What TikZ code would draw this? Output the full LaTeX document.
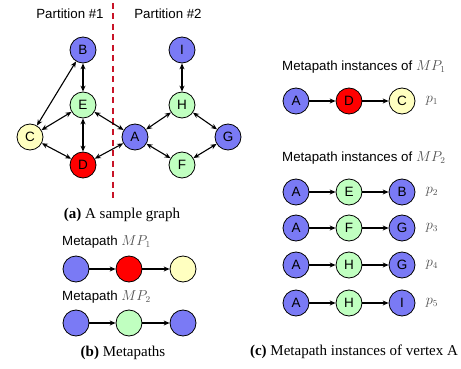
\documentclass[tikz,border=0pt]{standalone}
\usepackage{fontspec}
\setmainfont{Liberation Serif}
\newfontfamily\hv{Liberation Sans}
\usetikzlibrary{arrows.meta}
\definecolor{vblue}{RGB}{122,122,245}
\definecolor{vred}{RGB}{255,0,0}
\definecolor{vyellow}{RGB}{255,255,192}
\definecolor{vgreen}{RGB}{192,255,192}
\definecolor{pgray}{RGB}{80,80,80}
\definecolor{dred}{RGB}{200,20,40}
\tikzset{
  vtx/.style={circle,draw=black,line width=0.8pt,minimum size=26pt,inner sep=0pt,font=\hv\fontsize{13.5}{13.5}\selectfont},
  bl/.style={vtx,fill=vblue},
  rd/.style={vtx,fill=vred},
  ye/.style={vtx,fill=vyellow},
  gr/.style={vtx,fill=vgreen},
  bi/.style={line width=1.1pt,{Stealth[length=6pt,width=5pt]}-{Stealth[length=6pt,width=5pt]}},
  uni/.style={line width=1.1pt,-{Stealth[length=6pt,width=5pt]}},
  lbl/.style={font=\hv\fontsize{13.3}{13.3}\selectfont,inner sep=0pt},
  captxt/.style={font=\fontsize{15}{15}\selectfont,inner sep=0pt},
  pl/.style={font=\fontsize{13.5}{13.5}\selectfont,text=pgray,inner sep=0pt}
}
\begin{document}
\begin{tikzpicture}[x=1pt,y=-1pt]
\useasboundingbox (0,0) rectangle (461,369);
% (a)
\node[lbl] (p1) at (70,14) {Partition \#1};
\node[lbl] (p2) at (168,14) {Partition \#2};
\coordinate (dt) at (113,3);
\coordinate (db) at (113,200);
\draw[dred,line width=1.3pt,dash pattern=on 6pt off 4.5pt] (dt) -- (db);
\node[bl] (B) at (83,50) {B};
\node[gr] (E) at (83,105) {E};
\node[ye] (C) at (30,137) {C};
\node[rd] (D) at (83,165) {D};
\node[bl] (A) at (135,137) {A};
\node[bl] (I) at (182,50) {I};
\node[gr] (H) at (182,105) {H};
\node[bl] (G) at (228,137) {G};
\node[gr] (F) at (182,165) {F};
\foreach \u/\v in {B/C,B/E,E/C,E/D,E/A,C/D,D/A,A/H,H/I,H/G,A/F,F/G}
  \draw[bi] (\u) -- (\v);
\node[captxt] (capa) at (122,215) {\textbf{(a)} A sample graph};
% (b)
\node[lbl,anchor=west] (m1) at (62,242) {Metapath \textcolor{pgray}{$MP_1$}};
\node[bl] (b11) at (76,269) {};
\node[rd] (b12) at (129,269) {};
\node[ye] (b13) at (183,269) {};
\draw[uni] (b11) -- (b12);
\draw[uni] (b12) -- (b13);
\node[lbl,anchor=west] (m2) at (62,297) {Metapath \textcolor{pgray}{$MP_2$}};
\node[bl] (b21) at (76,323) {};
\node[gr] (b22) at (129,323) {};
\node[bl] (b23) at (183,323) {};
\draw[uni] (b21) -- (b22);
\draw[uni] (b22) -- (b23);
\node[captxt] (capb) at (123,353) {\textbf{(b)} Metapaths};
% (c)
\node[lbl,anchor=west] (c1) at (282,67) {Metapath instances of \textcolor{pgray}{$MP_1$}};
\node[bl] (r1a) at (296,101) {A};
\node[rd] (r1b) at (349,101) {D};
\node[ye] (r1c) at (402,101) {C};
\node[pl] (q1) at (432,101) {$p_1$};
\node[lbl,anchor=west] (c2) at (282,158) {Metapath instances of \textcolor{pgray}{$MP_2$}};
\node[bl] (r2a) at (296,192) {A};
\node[gr] (r2b) at (349,192) {E};
\node[bl] (r2c) at (402,192) {B};
\node[pl] (q2) at (432,192) {$p_2$};
\node[bl] (r3a) at (296,228) {A};
\node[gr] (r3b) at (349,228) {F};
\node[bl] (r3c) at (402,228) {G};
\node[pl] (q3) at (432,228) {$p_3$};
\node[bl] (r4a) at (296,265) {A};
\node[gr] (r4b) at (349,265) {H};
\node[bl] (r4c) at (402,265) {G};
\node[pl] (q4) at (432,265) {$p_4$};
\node[bl] (r5a) at (296,303) {A};
\node[gr] (r5b) at (349,303) {H};
\node[bl] (r5c) at (402,303) {I};
\node[pl] (q5) at (432,303) {$p_5$};
\foreach \r in {1,...,5} {
  \draw[uni] (r\r a) -- (r\r b);
  \draw[uni] (r\r b) -- (r\r c);
}
\node[captxt] (capc) at (354,352) {\textbf{(c)} Metapath instances of vertex A};
\end{tikzpicture}
\end{document}
